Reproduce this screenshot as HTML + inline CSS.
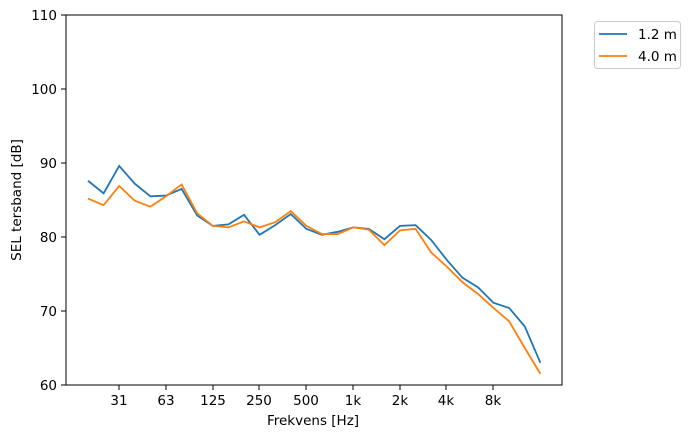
<!DOCTYPE html>
<html><head><meta charset="utf-8"><style>body{margin:0;background:#fff}svg{display:block;font-family:"DejaVu Sans","Liberation Sans",sans-serif}</style></head><body>
<svg width="693" height="438" xmlns="http://www.w3.org/2000/svg">
<rect width="693" height="438" fill="#fff"/>
<g font-size="13.5" fill="#000">
<g stroke="#000" stroke-width="1">
<line x1="61" x2="66" y1="385" y2="385"/><line x1="61" x2="66" y1="311" y2="311"/><line x1="61" x2="66" y1="237" y2="237"/><line x1="61" x2="66" y1="163" y2="163"/><line x1="61" x2="66" y1="89" y2="89"/><line x1="61" x2="66" y1="15" y2="15"/>
<line x1="119" x2="119" y1="385" y2="390"/><line x1="166" x2="166" y1="385" y2="390"/><line x1="213" x2="213" y1="385" y2="390"/><line x1="259" x2="259" y1="385" y2="390"/><line x1="306" x2="306" y1="385" y2="390"/><line x1="353" x2="353" y1="385" y2="390"/><line x1="400" x2="400" y1="385" y2="390"/><line x1="446" x2="446" y1="385" y2="390"/><line x1="493" x2="493" y1="385" y2="390"/>
</g>
<g text-anchor="end"><text x="57" y="390">60</text><text x="57" y="316">70</text><text x="57" y="242">80</text><text x="57" y="168">90</text><text x="57" y="94">100</text><text x="57" y="20">110</text></g>
<g text-anchor="middle"><text x="119" y="405">31</text><text x="166" y="405">63</text><text x="213" y="405">125</text><text x="259" y="405">250</text><text x="306" y="405">500</text><text x="353" y="405">1k</text><text x="400" y="405">2k</text><text x="446" y="405">4k</text><text x="493" y="405">8k</text>
<text x="313" y="425">Frekvens [Hz]</text>
<text transform="translate(21,200) rotate(-90)">SEL tersband [dB]</text></g>
</g>
<g transform="translate(0,829) scale(1,-7.4)" fill="none" stroke-width="1.8">
<polyline vector-effect="non-scaling-stroke" stroke="#1f77b4" points="88,87.6 103.6,85.9 119.2,89.6 134.8,87.2 150.4,85.5 166,85.6 181.6,86.5 197.2,82.9 212.8,81.5 228.4,81.7 244,83.0 259.6,80.3 275.2,81.6 290.8,83.1 306.4,81.1 322,80.3 337.6,80.7 353.2,81.3 368.8,81.1 384.4,79.7 400,81.5 415.6,81.6 431.2,79.6 446.8,76.9 462.4,74.5 478,73.2 493.6,71.1 509.2,70.4 524.8,67.9 540.4,63.0"/>
<polyline vector-effect="non-scaling-stroke" stroke="#ff7f0e" points="88,85.2 103.6,84.3 119.2,86.9 134.8,84.9 150.4,84.1 166,85.5 181.6,87.1 197.2,83.2 212.8,81.5 228.4,81.3 244,82.1 259.6,81.3 275.2,82.0 290.8,83.5 306.4,81.5 322,80.4 337.6,80.4 353.2,81.3 368.8,81.0 384.4,78.9 400,80.9 415.6,81.1 431.2,77.9 446.8,76.0 462.4,73.9 478,72.3 493.6,70.4 509.2,68.6 524.8,65.0 540.4,61.5"/>
</g>
<rect x="66" y="15" width="496" height="370" fill="none" stroke="#000" stroke-width="1"/>
<rect x="594.5" y="21.5" width="86" height="47" rx="3" fill="#fff" stroke="#ccc"/>
<line x1="599" x2="627" y1="34" y2="34" stroke="#1f77b4" stroke-width="1.8"/>
<line x1="599" x2="627" y1="56" y2="56" stroke="#ff7f0e" stroke-width="1.8"/>
<text x="638" y="39" font-size="13.5">1.2 m</text>
<text x="638" y="61" font-size="13.5">4.0 m</text>
</svg>
</body></html>
